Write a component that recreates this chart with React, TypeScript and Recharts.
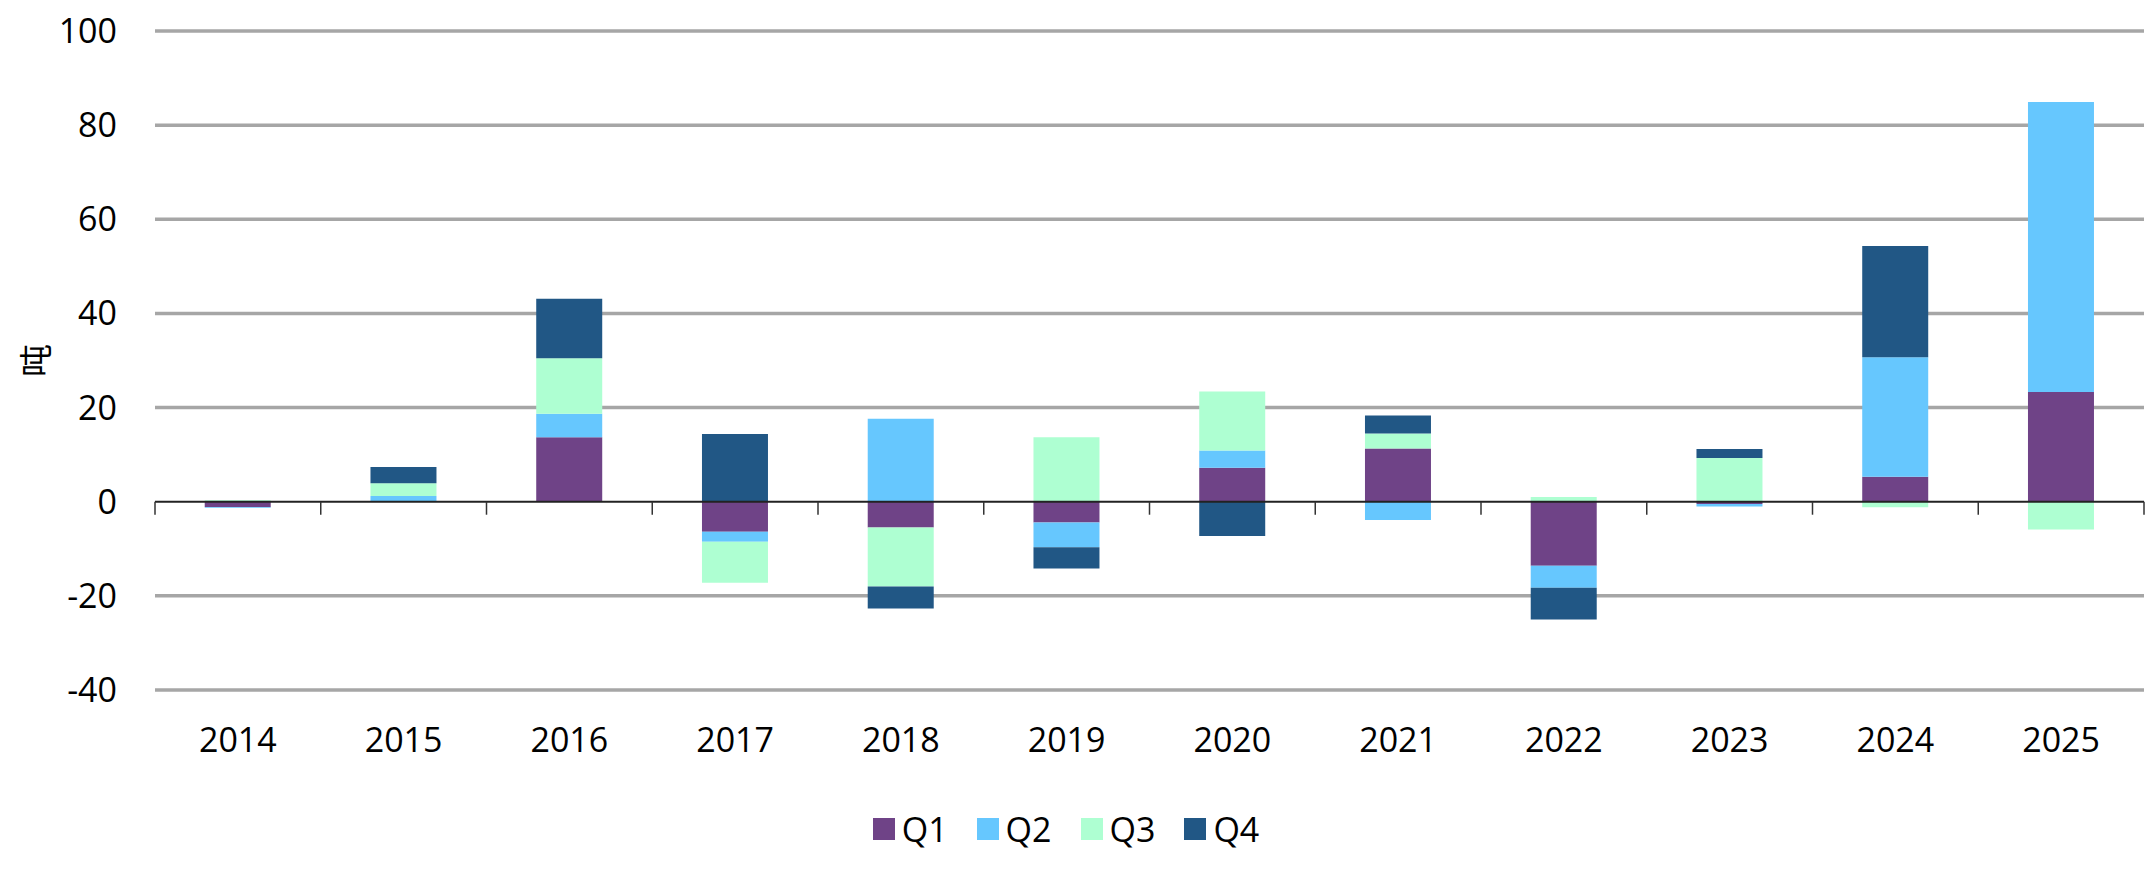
import React from 'react';
import { BarChart, Bar, XAxis, YAxis, CartesianGrid, Legend, ReferenceLine } from 'recharts';

const years = ['2014', '2015', '2016', '2017', '2018', '2019', '2020', '2021', '2022', '2023', '2024', '2025'];
const q1 = [-1.1, 0, 13.7, -6.4, -5.5, -4.4, 7.2, 11.3, -13.6, -0.5, 5.3, 23.3];
const q2 = [-0.2, 1.2, 5.0, -2.1, 17.6, -5.3, 3.7, -3.9, -4.7, -0.5, 25.4, 61.6];
const q3 = [0.3, 2.7, 11.8, -8.7, -12.5, 13.7, 12.5, 3.2, 1.0, 9.3, -1.2, -5.9];
const q4 = [0, 3.5, 12.6, 14.4, -4.7, -4.5, -7.3, 3.8, -6.7, 1.9, 23.6, 0];
const yTicks = [-40, -20, 0, 20, 40, 60, 80, 100];
const gridValues = [-40, -20, 20, 40, 60, 80, 100];
const seriesNames = ['Q1', 'Q2', 'Q3', 'Q4'];
const colors = ['#6f4387', '#66c7fe', '#aeffd2', '#215785'];

const data = years.map((y, i) => ({ year: y, Q1: q1[i], Q2: q2[i], Q3: q3[i], Q4: q4[i] }));

const FONT = '"Open Sans", "Noto Sans", sans-serif';

const ZeroLine = (props: any) => {
  const { x1, y1, x2 } = props;
  const n = years.length;
  const step = (x2 - x1) / n;
  const ticks = [];
  for (let i = 0; i <= n; i++) {
    const x = x1 + step * i;
    ticks.push(<line key={i} x1={x} x2={x} y1={y1} y2={y1 + 13} stroke="#333" strokeWidth={1.5} />);
  }
  return (
    <g>
      <line x1={x1} x2={x2} y1={y1} y2={y1} stroke="#222" strokeWidth={2} />
      {ticks}
    </g>
  );
};

const LegendContent = () => (
  <div style={{ display: 'flex', justifyContent: 'center', alignItems: 'center', height: 44, paddingRight: 20, fontFamily: FONT, fontSize: 34, color: '#000' }}>
    {seriesNames.map((s, i) => (
      <div key={s} style={{ display: 'flex', alignItems: 'center', marginRight: i < 3 ? 29 : 0 }}>
        <div style={{ width: 22, height: 22, background: colors[i], marginRight: 7 }} />
        <span style={{ lineHeight: '44px' }}>{s}</span>
      </div>
    ))}
  </div>
);

const YLabel = (props: any) => {
  const vb = props.viewBox || { x: 0, y: 0, width: 0, height: 0 };
  const x = vb.x + 26;
  const y = vb.y + vb.height / 2;
  return (
    <text
      x={x}
      y={y}
      transform={`rotate(-90, ${x}, ${y})`}
      textAnchor="middle"
      dominantBaseline="central"
      fontSize={33}
      fontFamily='"Noto Sans CJK SC", sans-serif'
      fill="#000"
    >
      吨
    </text>
  );
};

export default function App() {
  return (
    <BarChart
      width={2147}
      height={878}
      data={data}
      stackOffset="sign"
      barCategoryGap="30%"
      margin={{ top: 23, right: 11, left: 0, bottom: 35 }}
    >
      <CartesianGrid horizontal vertical={false} horizontalValues={gridValues} stroke="#a6a6a6" strokeWidth={3.5} />
      <XAxis
        dataKey="year"
        axisLine={false}
        tickLine={false}
        height={117}
        tickSize={6}
        tickMargin={32}
        tick={{ fontSize: 34, fill: '#000', fontFamily: FONT }}
        interval={0}
      />
      <YAxis
        domain={[-40, 100]}
        ticks={yTicks}
        axisLine={false}
        tickLine={false}
        width={147}
        tickSize={6}
        tickMargin={32}
        tick={{ fontSize: 34, fill: '#000', fontFamily: FONT }}
        label={<YLabel />}
      />
      <Legend verticalAlign="bottom" content={<LegendContent />} />
      {seriesNames.map((s, i) => (
        <Bar key={s} dataKey={s} stackId="a" fill={colors[i]} isAnimationActive={false} />
      ))}
      <ReferenceLine y={0} shape={<ZeroLine />} />
    </BarChart>
  );
}
